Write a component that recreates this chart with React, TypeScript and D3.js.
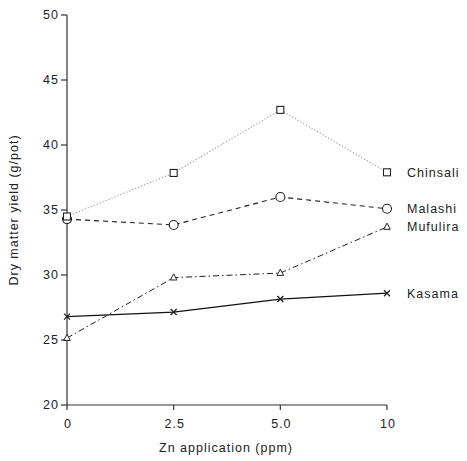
import React from "react";
import * as d3 from "d3";

// Zn application levels (ppm), plotted at equal spacing
const znLevels = ["0", "2.5", "5.0", "10"];
const yTicks = [20, 25, 30, 35, 40, 45, 50];

// Dry matter yield (g/pot) for each soil
const chinsali = [34.5, 37.85, 42.7, 37.9];
const malashi = [34.3, 33.85, 36.0, 35.1];
const mufulira = [25.15, 29.8, 30.15, 33.7];
const kasama = [26.8, 27.15, 28.15, 28.6];

const seriesNames = ["Chinsali", "Malashi", "Mufulira", "Kasama"];

const W = 467;
const H = 461;
const FONT = "'Liberation Sans', Arial, sans-serif";

type Marker = "square" | "circle" | "triangle" | "cross";

// drawn bottom-up so the Chinsali square sits on top at 0 ppm
const series: {
  name: string;
  values: number[];
  marker: Marker;
  stroke: string;
  dash: string;
  width: number;
}[] = [
  { name: seriesNames[3], values: kasama, marker: "cross", stroke: "#111", dash: "", width: 1.2 },
  { name: seriesNames[2], values: mufulira, marker: "triangle", stroke: "#222", dash: "6,3,1.5,3", width: 1 },
  { name: seriesNames[1], values: malashi, marker: "circle", stroke: "#222", dash: "5,4", width: 1.1 },
  { name: seriesNames[0], values: chinsali, marker: "square", stroke: "#9a9a9a", dash: "1.2,2", width: 1.1 },
];

function MarkerShape({ kind, x, y }: { kind: Marker; x: number; y: number }) {
  const c = "#222";
  if (kind === "square")
    return <rect x={x - 3.5} y={y - 3.5} width={7} height={7} fill="#fff" stroke={c} strokeWidth={1.1} />;
  if (kind === "circle") return <circle cx={x} cy={y} r={4.5} fill="#fff" stroke={c} strokeWidth={1.1} />;
  if (kind === "triangle")
    return (
      <path
        d={`M${x},${y - 3.8}L${x + 3.3},${y + 2.4}L${x - 3.3},${y + 2.4}Z`}
        fill="#fff"
        stroke={c}
        strokeWidth={1}
      />
    );
  return (
    <path
      d={`M${x - 3},${y - 3}L${x + 3},${y + 3}M${x - 3},${y + 3}L${x + 3},${y - 3}`}
      stroke={c}
      strokeWidth={1.3}
    />
  );
}

export default function App() {
  const x = d3.scalePoint<string>().domain(znLevels).range([67, 387]);
  const y = d3.scaleLinear().domain([20, 50]).range([405, 15]);

  const line = d3
    .line<number>()
    .x((_, i) => x(znLevels[i]) as number)
    .y((d) => y(d));

  const textStyle = { fontFamily: FONT, fontSize: 12.5, letterSpacing: 1, fill: "#222" };

  return (
    <svg
      width={W}
      height={H}
      style={{ position: "absolute", left: 0, top: 0, background: "#fff" }}
    >
      {/* axes */}
      <g stroke="#333" strokeWidth={1.2} fill="none">
        <line x1={67} x2={67} y1={y(50)} y2={y(20)} />
        <line x1={67} x2={387} y1={y(20)} y2={y(20)} />
        {yTicks.map((t) => (
          <line key={t} x1={61} x2={67} y1={y(t)} y2={y(t)} />
        ))}
        {znLevels.map((z) => (
          <line key={z} x1={x(z)} x2={x(z)} y1={y(20)} y2={y(20) + 5} />
        ))}
      </g>
      {yTicks.map((t) => (
        <text key={t} x={59} y={y(t)} dy="0.35em" textAnchor="end" {...textStyle}>
          {t}
        </text>
      ))}
      {znLevels.map((z) => (
        <text key={z} x={(x(z) as number) + 1} y={424} dy="0.35em" textAnchor="middle" {...textStyle}>
          {z}
        </text>
      ))}
      <text x={226} y={448} dy="0.35em" textAnchor="middle" {...textStyle}>
        Zn application (ppm)
      </text>
      <text
        transform={`translate(14,${y(35)}) rotate(-90)`}
        dy="0.35em"
        textAnchor="middle"
        {...textStyle}
      >
        Dry matter yield (g/pot)
      </text>

      {/* series */}
      {series.map((s) => (
        <g key={s.name}>
          <path
            d={line(s.values) as string}
            fill="none"
            stroke={s.stroke}
            strokeWidth={s.width}
            strokeDasharray={s.dash || undefined}
          />
          {s.values.map((v, i) => (
            <MarkerShape key={i} kind={s.marker} x={x(znLevels[i]) as number} y={y(v)} />
          ))}
          <text x={407} y={y(s.values[3])} dy="0.35em" {...textStyle}>
            {s.name}
          </text>
        </g>
      ))}
    </svg>
  );
}
